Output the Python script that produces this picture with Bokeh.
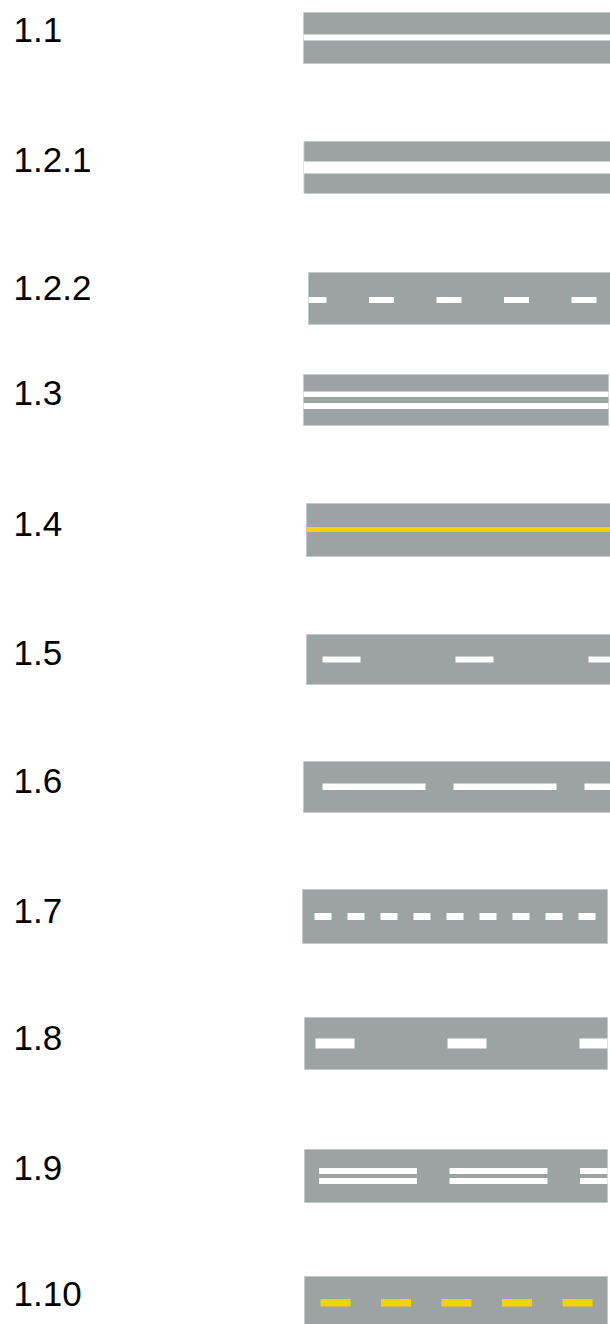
from bokeh.plotting import figure
from bokeh.models import Range1d
from bokeh.core.properties import value
from bokeh.embed import file_html
from bokeh.resources import INLINE

# ---- content ----
labels = ["1.1", "1.2.1", "1.2.2", "1.3", "1.4", "1.5", "1.6", "1.7", "1.8", "1.9", "1.10"]
mark_kind = ["white", "white", "white", "white", "yellow", "white", "white", "white", "white", "white", "yellow"]
# dash pattern (length, period); period 0 => continuous line
dash_len = [0, 0, 25, 0, 0, 38, 103, 17, 39, 98, 30]
dash_period = [0, 0, 67.5, 0, 0, 133, 131, 33, 132, 130.5, 60.5]

# ---- layout (page pixels) ----
label_y = [29, 159, 287, 392, 523, 652, 780, 910, 1037, 1167, 1293]
band_left = [303, 303.5, 308, 303, 306, 306, 303, 302, 304, 304, 304]
band_right = [612, 612, 612, 608, 612, 612, 612, 607, 607, 607, 607]
band_top = [12, 141, 272, 374, 503, 634, 761, 889, 1017, 1149, 1276]
band_bottom = [63, 193, 324, 425, 556, 684, 812, 943, 1069, 1202, 1330]
dash_start = [0, 0, 301, 0, 0, 322, 322, 314, 315, 318.5, 320]
stripes = [
    [(34, 40)],
    [(161, 173)],
    [(296.5, 302.5)],
    [(391, 396.5), (402.5, 408.5)],
    [(526.5, 531.5)],
    [(656, 662)],
    [(783, 789.5)],
    [(912.5, 919.5)],
    [(1038, 1048)],
    [(1167.5, 1173.5), (1177.5, 1183.5)],
    [(1298.5, 1306)],
]

GREY = "#9ba3a3"
COLORS = {"white": "#ffffff", "yellow": "#f6d200"}

p = figure(width=610, height=1324, x_range=Range1d(0, 610), y_range=Range1d(1324, 0),
           output_backend="svg", toolbar_location=None, min_border=0)
p.axis.visible = False
p.grid.visible = False
p.outline_line_color = None
p.background_fill_color = "white"
p.border_fill_color = "white"

# road bands
p.quad(left=band_left, right=band_right, top=band_top, bottom=band_bottom,
       fill_color=GREY, line_color="#c4caca", line_width=1)

# markings
ml, mr, mt, mb, mc = [], [], [], [], []
for i in range(len(labels)):
    col = COLORS[mark_kind[i]]
    for (y0, y1) in stripes[i]:
        if dash_period[i] == 0:
            segs = [(band_left[i], band_right[i])]
        else:
            segs = []
            x = dash_start[i]
            while x < band_right[i]:
                a = max(x, band_left[i])
                b = min(x + dash_len[i], band_right[i])
                if b > a:
                    segs.append((a, b))
                x += dash_period[i]
        for a, b in segs:
            ml.append(a); mr.append(b); mt.append(y0); mb.append(y1); mc.append(col)
p.quad(left=ml, right=mr, top=mt, bottom=mb, fill_color=mc, line_color=None)

# labels
p.text(x=[13] * len(labels), y=label_y, text=labels,
       text_font=value("Liberation Sans"), text_font_size="35px",
       text_baseline="middle", text_align="left", text_color="black")

open("out.html", "w").write(file_html(p, INLINE))
